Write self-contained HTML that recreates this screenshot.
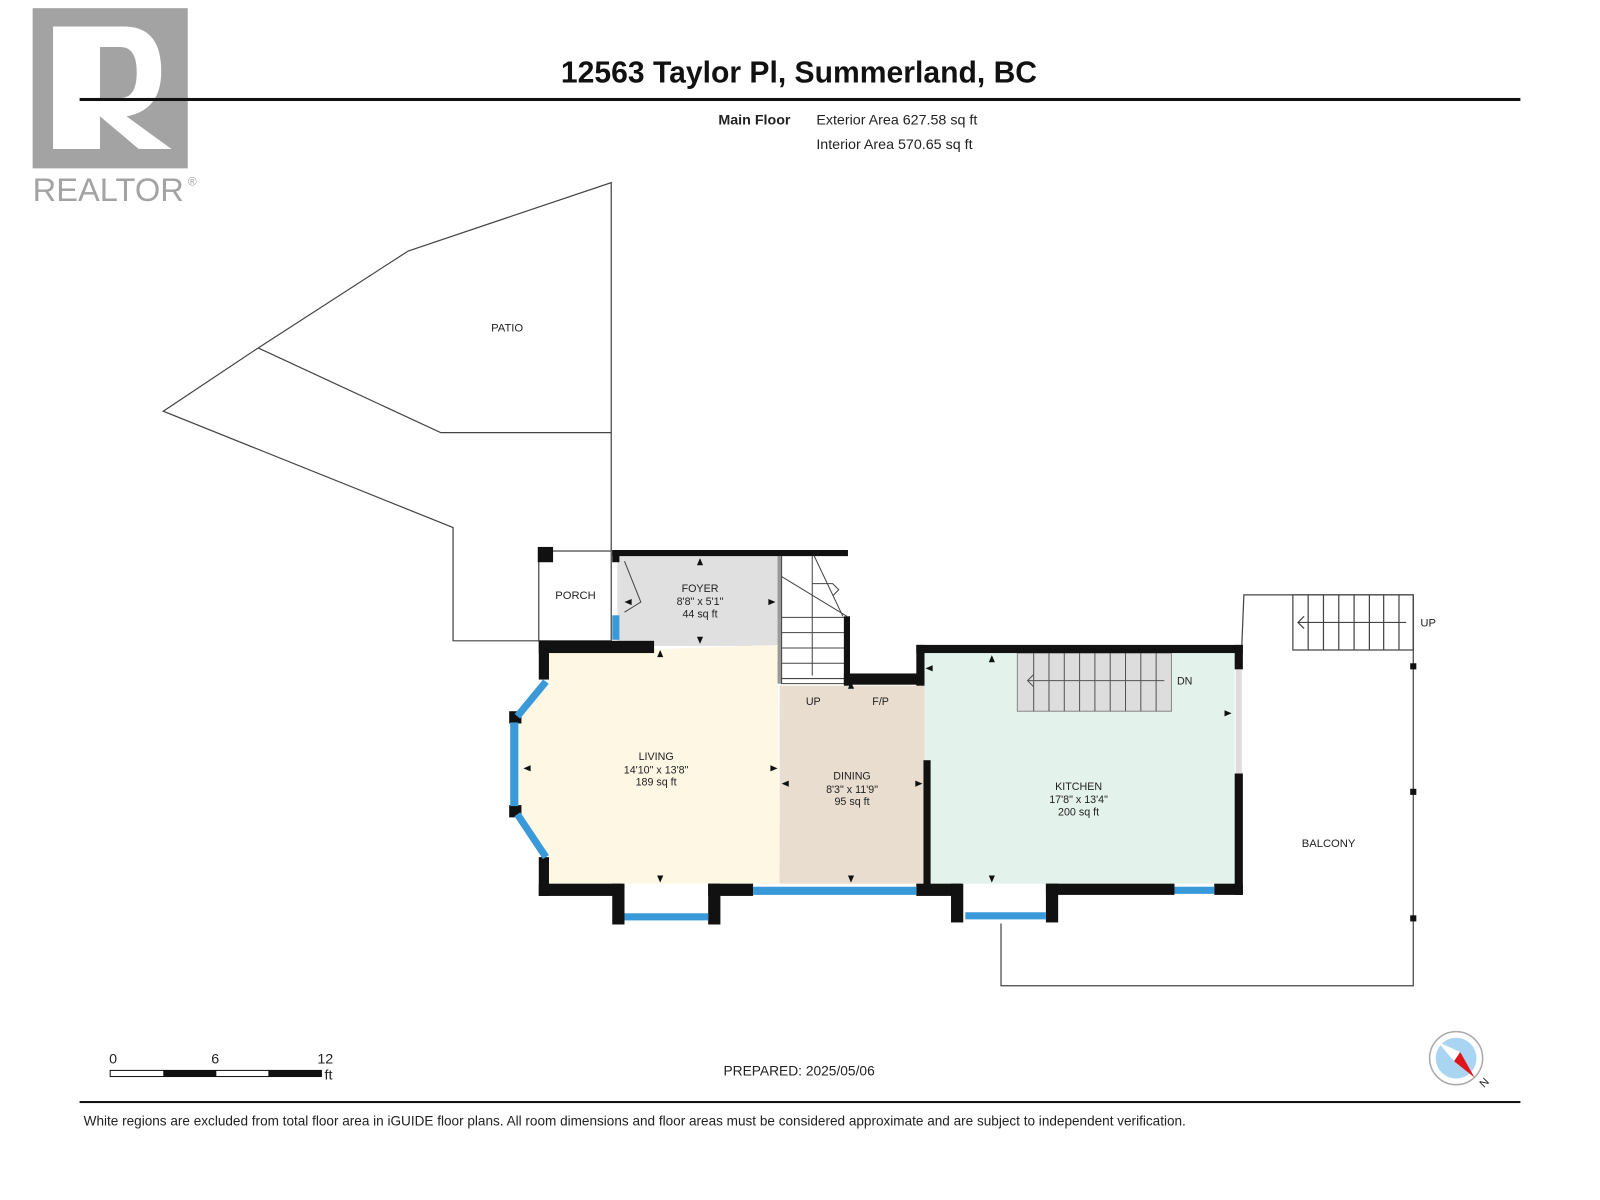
<!DOCTYPE html>
<html><head><meta charset="utf-8"><style>
html,body{margin:0;padding:0;background:#fff;}
svg{display:block;}
text{font-family:"Liberation Sans",sans-serif;fill:#222;}
</style></head><body>
<svg width="1600" height="1200" viewBox="0 0 1568 1176" preserveAspectRatio="none" xmlns="http://www.w3.org/2000/svg">
<!-- Realtor logo -->
<rect x="32" y="8" width="152" height="157" fill="#a3a3a3"/>
<path d="M52 26 H122 Q158 26 158 70 Q158 108 124 114 L168 146 H136 L98 114 V146 H52 Z M98 46 V96 H118 Q134 96 134 71 Q134 46 118 46 Z" fill="#fff"/>
<text x="32" y="197" font-size="32" style="fill:#a3a3a3">REALTOR</text>
<text x="184" y="182" font-size="12" style="fill:#a3a3a3">®</text>
<!-- header -->
<text x="783" y="81" font-size="29.5" font-weight="bold" text-anchor="middle" style="fill:#111">12563 Taylor Pl, Summerland, BC</text>
<rect x="78" y="96" width="1412" height="3" fill="#111"/>
<text x="704" y="122" font-size="14" font-weight="bold">Main Floor</text>
<text x="800" y="122" font-size="14">Exterior Area 627.58 sq ft</text>
<text x="800" y="146" font-size="14">Interior Area 570.65 sq ft</text>
<!-- patio -->
<g fill="none" stroke="#444" stroke-width="1.2">
<polyline points="599,540 599,179 400,246 253,341 160,403 444,517 444,628 528,628"/>
<polyline points="253,341 432,424 599,424"/>
<rect x="528" y="540" width="71" height="88"/>
<polyline points="1217,632 1219,583 1385,583 1385,966 981,966 981,905"/>
<rect x="1267" y="583" width="118" height="54"/>
<path d="M1282 583V637M1297 583V637M1312 583V637M1327 583V637M1342 583V637M1356 583V637M1371 583V637"/>
<path d="M1378 610H1272M1278 604L1272 610L1278 616"/>
</g>
<text x="497" y="325" font-size="11" text-anchor="middle">PATIO</text>
<text x="564" y="587" font-size="11" text-anchor="middle">PORCH</text>
<text x="1392" y="614" font-size="11">UP</text>
<text x="1302" y="830" font-size="11" text-anchor="middle">BALCONY</text>
<rect x="1382" y="650" width="6" height="6" fill="#111"/>
<rect x="1382" y="773" width="6" height="6" fill="#111"/>
<rect x="1382" y="897" width="6" height="6" fill="#111"/>
<rect x="527" y="536" width="15" height="15" fill="#111"/>
<!-- room fills -->
<rect x="605" y="545" width="158" height="88" fill="#e0e0e0"/>
<polygon points="538,640 762,632 764,866 538,866 538,840 508,795 508,705 538,667" fill="#fdf7e4"/>
<rect x="764" y="672" width="142" height="194" fill="#e8ddcf"/>
<rect x="906" y="640" width="304" height="226" fill="#e4f2ec"/>
<rect x="762" y="545" width="4" height="125" fill="#999"/>
<g fill="none" stroke="#444" stroke-width="1">
<path d="M766 545V670H830M766 605H830M766 620H830M766 635H830M766 650H830M766 665H830M796 545V662M766 565L830 604M798 545L826 604M796 572H816L822 578L816 584"/>
<path d="M612 550L628 590L612 600"/>
</g>
<rect x="997" y="640" width="151" height="57" fill="#ddd" stroke="#888"/>
<g stroke="#555" stroke-width="1" fill="none">
<path d="M1013 640V697M1028 640V697M1043 640V697M1058 640V697M1073 640V697M1088 640V697M1103 640V697M1118 640V697M1133 640V697"/>
<path d="M1141 667H1007M1013 661L1007 667L1013 673"/>
</g>
<!-- walls -->
<g fill="#111">
<rect x="600" y="539" width="231" height="6"/>
<rect x="600" y="539" width="7" height="12"/>
<rect x="827" y="604" width="6" height="68"/>
<rect x="827" y="660" width="76" height="11"/>
<rect x="898" y="632" width="320" height="8"/>
<rect x="898" y="632" width="8" height="40"/>
<rect x="1210" y="632" width="8" height="24"/>
<rect x="1210" y="758" width="8" height="119"/>
<rect x="905" y="745" width="7" height="130"/>
<rect x="528" y="628" width="113" height="12"/>
<rect x="528" y="628" width="10" height="38"/>
<rect x="528" y="840" width="10" height="38"/>
<rect x="528" y="866" width="82" height="12"/>
<rect x="600" y="866" width="12" height="40"/>
<rect x="694" y="866" width="12" height="40"/>
<rect x="694" y="866" width="44" height="12"/>
<rect x="898" y="866" width="44" height="12"/>
<rect x="932" y="866" width="12" height="38"/>
<rect x="1025" y="866" width="12" height="38"/>
<rect x="1025" y="866" width="126" height="11"/>
<rect x="1190" y="866" width="28" height="11"/>
<rect x="499" y="697" width="12" height="12"/>
<rect x="499" y="789" width="12" height="12"/>
</g>
<g fill="#3a9ad9">
<rect x="600" y="603" width="7" height="24"/>
<rect x="738" y="869" width="160" height="8"/>
<rect x="612" y="895" width="82" height="7"/>
<rect x="946" y="894" width="79" height="7"/>
<rect x="1151" y="869" width="39" height="7"/>
<rect x="500" y="708" width="8" height="82"/>
</g>
<g stroke="#3a9ad9" stroke-width="7">
<line x1="535" y1="668" x2="507" y2="702"/>
<line x1="507" y1="798" x2="535" y2="840"/>
</g>
<rect x="1211" y="656" width="6" height="102" fill="#ddd"/>
<g font-size="10.5" text-anchor="middle">
<text x="686" y="580">FOYER</text><text x="686" y="593">8'8" x 5'1"</text><text x="686" y="605">44 sq ft</text>
<text x="643" y="745">LIVING</text><text x="643" y="758">14'10" x 13'8"</text><text x="643" y="770">189 sq ft</text>
<text x="835" y="764">DINING</text><text x="835" y="777">8'3" x 11'9"</text><text x="835" y="789">95 sq ft</text>
<text x="1057" y="774">KITCHEN</text><text x="1057" y="787">17'8" x 13'4"</text><text x="1057" y="799">200 sq ft</text>
<text x="797" y="691">UP</text><text x="863" y="691">F/P</text><text x="1161" y="671">DN</text>
</g>
<g fill="#111">
<path d="M686 547l-3 7h6z"/><path d="M686 631l-3-7h6z"/><path d="M612 590l7-3v6z"/><path d="M760 590l-7-3v6z"/>
<path d="M647 637l-3 7h6z"/><path d="M513 753l7-3v6z"/><path d="M762 753l-7-3v6z"/><path d="M647 865l-3-7h6z"/>
<path d="M766 768l7-3v6z"/><path d="M904 768l-7-3v6z"/><path d="M834 865l-3-7h6z"/><path d="M834 668l-3 7h6z"/>
<path d="M972 642l-3 7h6z"/><path d="M907 655l7-3v6z"/><path d="M1207 699l-7-3v6z"/><path d="M972 865l-3-7h6z"/>
</g>
<rect x="108" y="1049" width="207" height="6" fill="#fff" stroke="#111" stroke-width="1"/>
<rect x="160" y="1049" width="52" height="6" fill="#111"/>
<rect x="263" y="1049" width="52" height="6" fill="#111"/>
<text x="107" y="1042" font-size="14">0</text>
<text x="207" y="1042" font-size="14">6</text>
<text x="311" y="1042" font-size="14">12</text>
<text x="318" y="1058" font-size="14">ft</text>
<text x="709" y="1054" font-size="13.5">PREPARED: 2025/05/06</text>
<circle cx="1427" cy="1037" r="26" fill="#fff" stroke="#aaa" stroke-width="1.5"/>
<circle cx="1427" cy="1037" r="20" fill="#a9d5f2"/>
<polygon points="1409,1021 1431,1031 1425,1040" fill="#fff"/>
<polygon points="1445,1056 1425,1040 1431,1031" fill="#e0141b"/>
<text x="1450" y="1064" font-size="11" transform="rotate(-45 1455 1060)">N</text>
<rect x="78" y="1079" width="1412" height="2" fill="#111"/>
<text x="82" y="1103" font-size="13.3">White regions are excluded from total floor area in iGUIDE floor plans. All room dimensions and floor areas must be considered approximate and are subject to independent verification.</text>
</svg>
</body></html>
